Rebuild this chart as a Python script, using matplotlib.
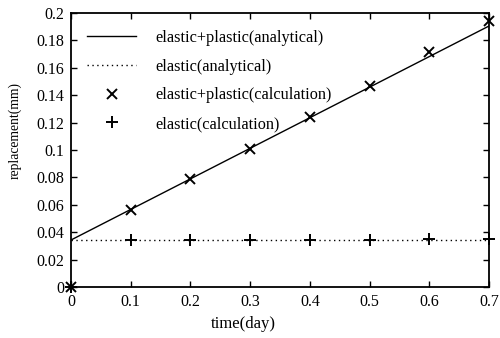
import matplotlib
matplotlib.use("Agg")
import matplotlib.pyplot as plt

plt.rcParams['font.family'] = ['Liberation Serif', 'DejaVu Serif']

time_day = [0.0, 0.1, 0.2, 0.3, 0.4, 0.5, 0.6, 0.7]
ep_calc = [0.0, 0.0562, 0.0786, 0.101, 0.124, 0.147, 0.1716, 0.1945]
el_calc = [0.0, 0.0343, 0.0343, 0.0345, 0.0345, 0.0345, 0.0350, 0.0348]
ep_line_x = [0.0, 0.7]
ep_line_y = [0.0343, 0.1905]
el_line_x = [0.0, 0.7]
el_line_y = [0.0343, 0.0343]

xticks = [0, 0.1, 0.2, 0.3, 0.4, 0.5, 0.6, 0.7]
xticklabels = ['0', '0.1', '0.2', '0.3', '0.4', '0.5', '0.6', '0.7']
yticks = [0, 0.02, 0.04, 0.06, 0.08, 0.1, 0.12, 0.14, 0.16, 0.18, 0.2]
yticklabels = ['0', '0.02', '0.04', '0.06', '0.08', '0.1', '0.12', '0.14', '0.16', '0.18', '0.2']

fig = plt.figure(figsize=(5.0, 3.38), dpi=100)
ax = fig.add_axes([71/500, 1-287/338, 418/500, 274/338])

ax.plot(ep_line_x, ep_line_y, color='black', lw=1.0, label='elastic+plastic(analytical)')
ax.plot(el_line_x, el_line_y, color='black', lw=1.0, ls=(0, (1, 2.5)), label='elastic(analytical)')
ax.plot(time_day, ep_calc, ls='none', marker='x', ms=7, mew=1.4, color='black',
        label='elastic+plastic(calculation)', clip_on=False)
ax.plot(time_day, el_calc, ls='none', marker='+', ms=8, mew=1.4, color='black',
        label='elastic(calculation)', clip_on=False)

ax.set_xlim(0, 0.7)
ax.set_ylim(0, 0.2)
ax.set_xticks(xticks)
ax.set_xticklabels(xticklabels)
ax.set_yticks(yticks)
ax.set_yticklabels(yticklabels)
ax.tick_params(direction='in', top=True, right=True, length=4, width=1, labelsize=11.5, pad=5)
for s in ax.spines.values():
    s.set_linewidth(1.3)

ax.set_xlabel('time(day)', fontsize=12)
ax.xaxis.set_label_coords(0.413, -0.106)
ax.set_ylabel('replacement(mm)', fontsize=9.8)
ax.yaxis.set_label_coords(-0.117, 0.57)

ax.legend(loc='upper left', frameon=False, fontsize=11.7, handlelength=3.0,
          handletextpad=1.17, labelspacing=0.78, bbox_to_anchor=(0.004, 0.991))

fig.savefig('out.png', dpi=100)
